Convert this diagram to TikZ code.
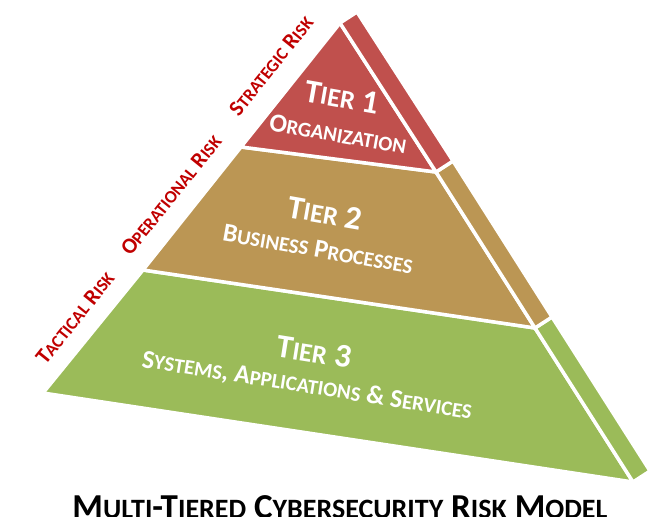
\documentclass[tikz,border=0pt]{standalone}
\usepackage{fontspec}
\setmainfont{Carlito}
\usepackage{graphicx}
\usetikzlibrary{calc}

\definecolor{tierred}{HTML}{C0504D}
\definecolor{tiertan}{HTML}{BB9654}
\definecolor{tiergreen}{HTML}{9BBB59}
\definecolor{riskred}{HTML}{C00000}

\newcommand{\smc}[1]{\scalebox{0.8}{#1}}

\begin{document}
\begin{tikzpicture}[
    x=1pt, y=-1pt,
    tier/.style={draw=white, line width=3.5pt, line join=miter},
    ttl/.style={text=white, font=\bfseries\fontsize{33}{35}\selectfont, rotate=-10, inner sep=0pt},
    sub/.style={text=white, font=\bfseries\fontsize{26}{28}\selectfont, rotate=-10, inner sep=0pt},
    risk/.style={text=riskred, font=\bfseries\fontsize{22}{24}\selectfont, rotate=51.2, inner sep=0pt}
]
\useasboundingbox (0,0) rectangle (660,516);

% front face corners
\coordinate (apex) at (340,23);
\coordinate (l1) at (241,147);
\coordinate (r1) at (436,172);
\coordinate (l2) at (143,270);
\coordinate (r2) at (535,328);
\coordinate (l3) at (43,393);
\coordinate (r3) at (633,482);

% side strip
\coordinate (v) at (17,-11);
\coordinate (s0) at ($(apex)+(v)$);
\coordinate (s1) at ($(r1)+(v)$);
\coordinate (s2) at ($(r2)+(v)$);
\coordinate (s3) at ($(r3)+(v)$);

\filldraw[tier, fill=tiergreen] (l2) -- (r2) -- (r3) -- (l3) -- cycle;
\filldraw[tier, fill=tiertan] (l1) -- (r1) -- (r2) -- (l2) -- cycle;
\filldraw[tier, fill=tierred] (apex) -- (r1) -- (l1) -- cycle;

\filldraw[tier, fill=tiergreen] (r2) -- (s2) -- (s3) -- (r3) -- cycle;
\filldraw[tier, fill=tiertan] (r1) -- (s1) -- (s2) -- (r2) -- cycle;
\filldraw[tier, fill=tierred] (apex) -- (s0) -- (s1) -- (r1) -- cycle;

% tier texts
\node[ttl] (t1) at (342,97) {T\smc{IER} 1};
\node[sub] (o1) at (338,134) {O\smc{RGANIZATION}};
\node[ttl] (t2) at (325,213) {T\smc{IER} 2};
\node[sub] (o2) at (318,249) {B\smc{USINESS} P\smc{ROCESSES}};
\node[ttl, rotate=1] (t3) at (314,352) {T\smc{IER} 3};
\node[sub, rotate=1] (o3) at (307,386) {S\smc{YSTEMS}, A\smc{PPLICATIONS} \& S\smc{ERVICES}};

% risk labels
\node[risk] (strat) at (271,66) {S\smc{TRATEGIC} R\smc{ISK}};
\node[risk] (oper) at (171,195) {O\smc{PERATIONAL} R\smc{ISK}};
\node[risk] (tact) at (75,318) {T\smc{ACTICAL} R\smc{ISK}};

% title
\node[anchor=base, inner sep=0pt, font=\bfseries\fontsize{35}{37}\selectfont] (title) at (340,518)
    {M\smc{ULTI}-T\smc{IERED} C\smc{YBERSECURITY} R\smc{ISK} M\smc{ODEL}};

\end{tikzpicture}
\end{document}
